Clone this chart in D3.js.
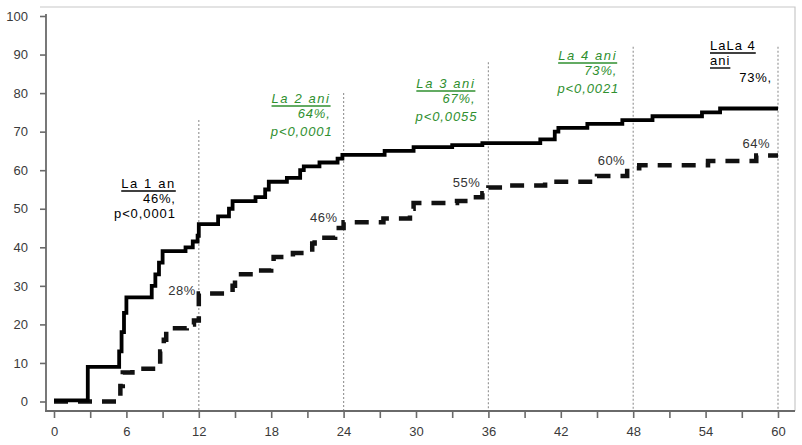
<!DOCTYPE html>
<html>
<head>
<meta charset="utf-8">
<script src="https://cdn.jsdelivr.net/npm/d3@7"></script>
<style>
  body { margin: 0; background: #fff; }
  text { font-family: "Liberation Sans", Arial, sans-serif; }
</style>
</head>
<body>
<div id="chart"></div>
<script>
// solid curve (months, cumulative %)
var solidMonths = [0, 2.8, 5.4, 5.6, 5.8, 6.0, 8.1, 8.4, 8.7, 9.0, 10.9, 11.5, 11.9, 12.0,
    13.6, 14.5, 14.8, 16.7, 17.5, 17.8, 19.3, 20.4, 20.7, 22.0, 23.5, 23.9,
    27.4, 29.8, 33.0, 35.5, 40.3, 41.5, 41.8, 44.2, 47.1, 49.6, 53.7, 55.2, 60];
var solidPct = [0.3, 9, 13, 18, 23, 27, 30, 33, 36, 39, 40, 41.5, 43, 46,
    48, 50, 52, 53, 55, 57, 58, 60, 61, 62, 63, 64,
    65, 66, 66.5, 67, 68, 70, 71, 72, 73, 74, 75, 76, 76];

// dashed curve
var dashMonths = [0, 5.2, 5.5, 5.7, 6.5, 8.5, 8.8, 9.1, 9.3, 11.0, 11.6, 12.0,
    14.8, 15.0, 16.5, 18.0, 18.2, 19.8, 21.4, 21.6, 23.3, 23.6, 24.0,
    27.3, 29.5, 29.8, 33.4, 34.7, 35.5, 36.0, 37.2, 40.7, 45.0, 47.5, 48.5,
    54.2, 58.2, 60];
var dashPct = [0, 1, 4, 7.5, 8.5, 9, 13, 16, 19, 20, 21, 28,
    30, 33, 34, 36, 37.5, 38.5, 41, 42.5, 44, 45, 46.5,
    47.5, 50, 51.5, 52, 53, 54, 55.5, 56, 57, 58.5, 60.5, 61.3,
    62.4, 63.8, 63.8];

var xTicks = d3.range(0, 61, 3);
var yTicks = d3.range(0, 101, 10);

var markMonths = [12, 24, 36, 48, 60];
var markTops = [73, 80, 88, 92, 92];

var dashLabels = ["28%", "46%", "55%", "60%", "64%"];
var dashLabelPct = [28, 46, 55, 60, 64];

var annTitle = ["La 1 an", "La 2 ani", "La 3 ani", "La 4 ani"];
var annPct = ["46%,", "64%,", "67%,", "73%,"];
var annP = ["p<0,0001", "p<0,0001", "p<0,0055", "p<0,0021"];

const W = 802, H = 445;
const green = "#2f8f2f";

const svg = d3.select("#chart")
    .append("svg")
    .attr("width", W)
    .attr("height", H);

const x = d3.scaleLinear().domain([0, 60]).range([54, 778]);
const y = d3.scaleLinear().domain([0, 100]).range([401.5, 16]);

const axisY = 411, axisX = 46;

// light frame
svg.append("path")
    .attr("d", `M40,7H795V${axisY}`)
    .attr("fill", "none")
    .attr("stroke", "#c8c8c8")
    .attr("stroke-width", 1.2);

// dotted year markers
svg.selectAll(".mark")
    .data(markMonths)
    .enter()
    .append("line")
    .attr("x1", d => x(d))
    .attr("x2", d => x(d))
    .attr("y1", (d, i) => y(markTops[i]))
    .attr("y2", axisY)
    .attr("stroke", "#9a9a9a")
    .attr("stroke-width", 1.2)
    .attr("stroke-dasharray", "2,2");

// axes
const gy = svg.append("g")
    .attr("transform", `translate(${axisX},0)`)
    .call(d3.axisLeft(y).tickValues(yTicks).tickSize(6).tickPadding(12));
const gx = svg.append("g")
    .attr("transform", `translate(0,${axisY})`)
    .call(d3.axisBottom(x).tickValues(xTicks).tickSize(7).tickPadding(9)
        .tickFormat(d => d % 6 === 0 ? d : ""));

[gx, gy].forEach(g => {
    g.select(".domain").remove();
    g.selectAll("line").attr("stroke", "#6a6a6a").attr("stroke-width", 1.6);
    g.selectAll("text").attr("fill", "#3a3a3a").style("font-size", "13px");
});

svg.append("line")
    .attr("x1", axisX).attr("x2", axisX)
    .attr("y1", y(100) - 2).attr("y2", axisY + 1)
    .attr("stroke", "#6a6a6a").attr("stroke-width", 1.8);
svg.append("line")
    .attr("x1", axisX - 1).attr("x2", 795)
    .attr("y1", axisY).attr("y2", axisY)
    .attr("stroke", "#6a6a6a").attr("stroke-width", 1.8);

// curves
const line = d3.line()
    .x(d => x(d[0]))
    .y(d => y(d[1]))
    .curve(d3.curveStepAfter);

svg.append("path")
    .datum(dashMonths.map((m, i) => [m, dashPct[i]]))
    .attr("d", line)
    .attr("fill", "none")
    .attr("stroke", "#111")
    .attr("stroke-width", 4.5)
    .attr("stroke-dasharray", "14,10");

svg.append("path")
    .datum(solidMonths.map((m, i) => [m, solidPct[i]]))
    .attr("d", line)
    .attr("fill", "none")
    .attr("stroke", "#000")
    .attr("stroke-width", 3.8)
    .attr("stroke-linejoin", "miter");

// dashed curve percentage labels
var dashOffsets = [[-3, 1], [-6, -2], [-8, -2], [-8, -5], [-8, -7]];
svg.selectAll(".dl")
    .data(dashLabels)
    .enter()
    .append("text")
    .attr("x", (d, i) => x(markMonths[i]) + dashOffsets[i][0])
    .attr("y", (d, i) => y(dashLabelPct[i]) + dashOffsets[i][1])
    .attr("text-anchor", "end")
    .attr("fill", "#333")
    .style("font-size", "13px")
    .style("letter-spacing", "0.5px")
    .text(d => d);

function underline(t, color) {
    const b = t.node().getBBox();
    svg.append("line")
        .attr("x1", b.x).attr("x2", b.x + b.width)
        .attr("y1", +t.attr("y") + 3).attr("y2", +t.attr("y") + 3)
        .attr("stroke", color).attr("stroke-width", 1.4);
}

// annotations: right edge offset from marker, first baseline
var annLayout = [[-23, 188], [-13, 103], [-13, 88], [-16, 60]];
annTitle.forEach((title, i) => {
    const c = i === 0 ? "#000" : green;
    const style = i === 0 ? "normal" : "italic";
    const rx = x(markMonths[i]) + annLayout[i][0];
    const by = annLayout[i][1];
    const t = svg.append("text")
        .attr("x", rx).attr("y", by)
        .attr("text-anchor", "end")
        .attr("fill", c)
        .style("font-size", "13px")
        .style("font-style", style)
        .style("letter-spacing", "1.6px")
        .text(title);
    underline(t, c);
    svg.append("text")
        .attr("x", rx).attr("y", by + 15)
        .attr("text-anchor", "end")
        .attr("fill", c)
        .style("font-size", "13px")
        .style("font-style", style)
        .style("letter-spacing", "0.8px")
        .text(annPct[i]);
    svg.append("text")
        .attr("x", rx + (i === 0 ? 0 : 2)).attr("y", by + (i === 0 ? 30 : 33))
        .attr("text-anchor", "end")
        .attr("fill", c)
        .style("font-size", "13px")
        .style("font-style", style)
        .style("letter-spacing", "0.9px")
        .text(annP[i]);
});

// last annotation at 60 months
const lx = x(60) - 68;
const t1 = svg.append("text")
    .attr("x", lx).attr("y", 50)
    .attr("fill", "#000")
    .style("font-size", "13px")
    .style("letter-spacing", "1px")
    .text("LaLa 4");
underline(t1, "#000");
const t2 = svg.append("text")
    .attr("x", lx).attr("y", 65)
    .attr("fill", "#000")
    .style("font-size", "13px")
    .style("letter-spacing", "1px")
    .text("ani");
underline(t2, "#000");
svg.append("text")
    .attr("x", x(60) - 6).attr("y", 82)
    .attr("text-anchor", "end")
    .attr("fill", "#000")
    .style("font-size", "13px")
    .style("letter-spacing", "0.8px")
    .text("73%,");
</script>
</body>
</html>
